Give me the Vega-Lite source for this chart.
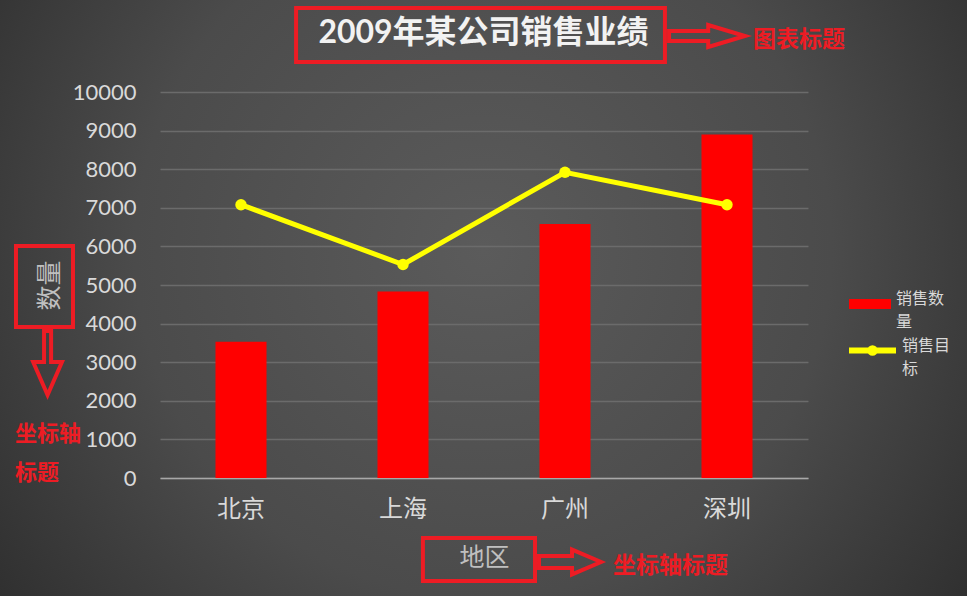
{
  "$schema": "https://vega.github.io/schema/vega-lite/v6.json",
  "width": 967,
  "height": 596,
  "autosize": "none",
  "padding": 0,
  "background": "#2c2c2c",
  "config": {"style": {"guide-label": {"lineHeight": 23}}},
  "view": {
    "stroke": null,
    "fill": {
      "gradient": "radial",
      "x1": 0.5, "y1": 0.45, "r1": 0,
      "x2": 0.5, "y2": 0.45, "r2": 0.72,
      "stops": [
        {"offset": 0, "color": "#5b5b5b"},
        {"offset": 0.5, "color": "#4b4b4b"},
        {"offset": 1, "color": "#252525"}
      ]
    }
  },
  "title": {
    "text": "2009年某公司销售业绩",
    "font": "Lato, 'Noto Sans CJK SC'",
    "fontSize": 32,
    "fontWeight": "bold",
    "color": "#f2f2f2",
    "anchor": "middle",
    "frame": "group",
    "offset": -50
  },
  "resolve": {"scale": {"x": "independent", "y": "independent"}},
  "layer": [
    {
      "data": {
        "values": [
          {"城市": "北京", "销售数量": 3530, "销售目标": 7080},
          {"城市": "上海", "销售数量": 4830, "销售目标": 5530},
          {"城市": "广州", "销售数量": 6580, "销售目标": 7920},
          {"城市": "深圳", "销售数量": 8900, "销售目标": 7080}
        ]
      },
      "layer": [
        {
          "mark": {"type": "bar"},
          "encoding": {
            "x": {"field": "城市", "type": "nominal", "sort": null,
              "scale": {"range": [160, 808], "paddingInner": 0.685, "paddingOuter": 0.3425},
              "axis": {"title": "地区", "offset": -118, "labelAngle": 0, "ticks": false, "tickSize": 0, "grid": false,
                "domain": true, "domainColor": "#a8a8a8", "domainWidth": 1.5,
                "labelFont": "Noto Sans CJK SC", "labelFontSize": 24, "labelColor": "#d9d9d9", "labelPadding": 19,
                "titleFont": "Noto Sans CJK SC", "titleFontSize": 25, "titleFontWeight": "normal", "titleColor": "#bfbfbf", "titlePadding": 24}},
            "y": {"field": "销售数量", "type": "quantitative",
              "scale": {"domain": [0, 10000], "range": [478, 92], "nice": false, "zero": true},
              "axis": {"title": "数量", "offset": -160, "format": "d", "values": [0,1000,2000,3000,4000,5000,6000,7000,8000,9000,10000],
                "ticks": false, "tickSize": 0, "domain": false, "grid": true, "gridColor": "#6b6b6b", "gridWidth": 1.5,
                "labelFont": "Lato", "labelFontSize": 22, "labelColor": "#d9d9d9", "labelPadding": 24,
                "titleFont": "Noto Sans CJK SC", "titleFontSize": 25, "titleFontWeight": "normal", "titleColor": "#bfbfbf", "titlePadding": 10}},
            "fill": {"datum": "销售数量", "type": "nominal", "scale": {"range": ["#ff0000"]},
              "legend": {"orient": "none", "legendX": 849, "legendY": 283, "title": null, "padding": 0,
                "symbolType": "M-1,-0.24H1V0.24H-1Z", "symbolSize": 1764, "symbolStrokeWidth": 0,
                "labelExpr": "['销售数','量']", "labelFont": "Noto Sans CJK SC", "labelFontSize": 16,
                "labelColor": "#d9d9d9", "labelOffset": 5, "labelBaseline": "alphabetic"}}
          }
        },
        {
          "mark": {"type": "line", "strokeWidth": 5},
          "encoding": {
            "x": {"field": "城市", "type": "nominal", "sort": null,
              "scale": {"range": [160, 808], "paddingInner": 0.685, "paddingOuter": 0.3425},
              "axis": {"title": "地区", "offset": -118, "labelAngle": 0, "ticks": false, "tickSize": 0, "grid": false,
                "domain": true, "domainColor": "#a8a8a8", "domainWidth": 1.5,
                "labelFont": "Noto Sans CJK SC", "labelFontSize": 24, "labelColor": "#d9d9d9", "labelPadding": 19,
                "titleFont": "Noto Sans CJK SC", "titleFontSize": 25, "titleFontWeight": "normal", "titleColor": "#bfbfbf", "titlePadding": 24}},
            "y": {"field": "销售目标", "type": "quantitative",
              "scale": {"domain": [0, 10000], "range": [478, 92], "nice": false, "zero": true},
              "axis": {"title": "数量", "offset": -160, "format": "d", "values": [0,1000,2000,3000,4000,5000,6000,7000,8000,9000,10000],
                "ticks": false, "tickSize": 0, "domain": false, "grid": true, "gridColor": "#6b6b6b", "gridWidth": 1.5,
                "labelFont": "Lato", "labelFontSize": 22, "labelColor": "#d9d9d9", "labelPadding": 24,
                "titleFont": "Noto Sans CJK SC", "titleFontSize": 25, "titleFontWeight": "normal", "titleColor": "#bfbfbf", "titlePadding": 10}},
            "stroke": {"datum": "销售目标", "type": "nominal", "scale": {"range": ["#ffff00"]},
              "legend": {"orient": "none", "legendX": 846, "legendY": 324, "title": null, "padding": 0,
                "symbolType": "M-1,0H1M0.1,0A0.1,0.1,0,1,1,-0.1,0A0.1,0.1,0,1,1,0.1,0", "symbolSize": 2209, "symbolStrokeWidth": 6,
                "labelExpr": "['销售目','标']", "labelFont": "Noto Sans CJK SC", "labelFontSize": 16,
                "labelColor": "#d9d9d9", "labelOffset": 3, "labelBaseline": "alphabetic"}}
          }
        },
        {
          "mark": {"type": "point", "filled": true, "size": 130, "color": "#ffff00", "opacity": 1},
          "encoding": {
            "x": {"field": "城市", "type": "nominal", "sort": null,
              "scale": {"range": [160, 808], "paddingInner": 0.685, "paddingOuter": 0.3425},
              "axis": {"title": "地区", "offset": -118, "labelAngle": 0, "ticks": false, "tickSize": 0, "grid": false,
                "domain": true, "domainColor": "#a8a8a8", "domainWidth": 1.5,
                "labelFont": "Noto Sans CJK SC", "labelFontSize": 24, "labelColor": "#d9d9d9", "labelPadding": 19,
                "titleFont": "Noto Sans CJK SC", "titleFontSize": 25, "titleFontWeight": "normal", "titleColor": "#bfbfbf", "titlePadding": 24}},
            "y": {"field": "销售目标", "type": "quantitative",
              "scale": {"domain": [0, 10000], "range": [478, 92], "nice": false, "zero": true},
              "axis": {"title": "数量", "offset": -160, "format": "d", "values": [0,1000,2000,3000,4000,5000,6000,7000,8000,9000,10000],
                "ticks": false, "tickSize": 0, "domain": false, "grid": true, "gridColor": "#6b6b6b", "gridWidth": 1.5,
                "labelFont": "Lato", "labelFontSize": 22, "labelColor": "#d9d9d9", "labelPadding": 24,
                "titleFont": "Noto Sans CJK SC", "titleFontSize": 25, "titleFontWeight": "normal", "titleColor": "#bfbfbf", "titlePadding": 10}}
          }
        }
      ]
    },
    {
      "data": {"values": [{}]},
      "mark": {"type": "rect", "filled": false, "stroke": "#ed1c24", "strokeWidth": 4},
      "encoding": {
        "x": {"datum": 0.84, "type": "quantitative", "scale": {"domain": [0, 4], "range": [160, 808]}, "axis": null},
        "x2": {"datum": 3.117},
        "y": {"datum": 12176, "type": "quantitative", "scale": {"domain": [0, 10000], "range": [478, 92]}, "axis": null},
        "y2": {"datum": 10777}
      }
    },
    {
      "data": {"values": [{}]},
      "mark": {"type": "rect", "filled": false, "stroke": "#ed1c24", "strokeWidth": 4},
      "encoding": {
        "x": {"datum": -0.889, "type": "quantitative", "scale": {"domain": [0, 4], "range": [160, 808]}, "axis": null},
        "x2": {"datum": -0.537},
        "y": {"datum": 6010, "type": "quantitative", "scale": {"domain": [0, 10000], "range": [478, 92]}, "axis": null},
        "y2": {"datum": 3912}
      }
    },
    {
      "data": {"values": [{}]},
      "mark": {"type": "rect", "filled": false, "stroke": "#ed1c24", "strokeWidth": 4},
      "encoding": {
        "x": {"datum": 1.623, "type": "quantitative", "scale": {"domain": [0, 4], "range": [160, 808]}, "axis": null},
        "x2": {"datum": 2.315},
        "y": {"datum": -1554, "type": "quantitative", "scale": {"domain": [0, 10000], "range": [478, 92]}, "axis": null},
        "y2": {"datum": -2668}
      }
    },
    {
      "data": {"values": [{}]},
      "mark": {"type": "point", "shape": "M-1,-0.13L0.03,-0.13L0.03,-0.29L1,0L0.03,0.29L0.03,0.13L-1,0.13Z", "size": 5776, "filled": false, "stroke": "#ed1c24", "strokeWidth": 4, "opacity": 1},
      "encoding": {
        "x": {"datum": 3.377, "type": "quantitative", "scale": {"domain": [0, 4], "range": [160, 808]}, "axis": null},
        "y": {"datum": 11451, "type": "quantitative", "scale": {"domain": [0, 10000], "range": [478, 92]}, "axis": null}
      }
    },
    {
      "data": {"values": [{}]},
      "mark": {"type": "point", "shape": "M-0.11,-1L0.11,-1L0.11,-0.03L0.45,-0.03L0,1L-0.45,-0.03L-0.11,-0.03Z", "size": 4096, "filled": false, "stroke": "#ed1c24", "strokeWidth": 4, "opacity": 1},
      "encoding": {
        "x": {"datum": -0.694, "type": "quantitative", "scale": {"domain": [0, 4], "range": [160, 808]}, "axis": null},
        "y": {"datum": 2979, "type": "quantitative", "scale": {"domain": [0, 10000], "range": [478, 92]}, "axis": null}
      }
    },
    {
      "data": {"values": [{}]},
      "mark": {"type": "point", "shape": "M-1,-0.19L0.065,-0.19L0.065,-0.4L1,0L0.065,0.4L0.065,0.19L-1,0.19Z", "size": 3844, "filled": false, "stroke": "#ed1c24", "strokeWidth": 4, "opacity": 1},
      "encoding": {
        "x": {"datum": 2.531, "type": "quantitative", "scale": {"domain": [0, 4], "range": [160, 808]}, "axis": null},
        "y": {"datum": -2176, "type": "quantitative", "scale": {"domain": [0, 10000], "range": [478, 92]}, "axis": null}
      }
    },
    {
      "data": {"values": [{}]},
      "mark": {"type": "text", "text": "图表标题", "font": "Noto Sans CJK SC", "fontSize": 23, "fontWeight": "bold", "color": "#ed1c24", "align": "left", "baseline": "middle"},
      "encoding": {
        "x": {"datum": 3.66, "type": "quantitative", "scale": {"domain": [0, 4], "range": [160, 808]}, "axis": null},
        "y": {"datum": 11347, "type": "quantitative", "scale": {"domain": [0, 10000], "range": [478, 92]}, "axis": null}
      }
    },
    {
      "data": {"values": [{}]},
      "mark": {"type": "text", "text": "坐标轴", "font": "Noto Sans CJK SC", "fontSize": 22, "fontWeight": "bold", "color": "#ed1c24", "align": "left", "baseline": "middle"},
      "encoding": {
        "x": {"datum": -0.895, "type": "quantitative", "scale": {"domain": [0, 4], "range": [160, 808]}, "axis": null},
        "y": {"datum": 1140, "type": "quantitative", "scale": {"domain": [0, 10000], "range": [478, 92]}, "axis": null}
      }
    },
    {
      "data": {"values": [{}]},
      "mark": {"type": "text", "text": "标题", "font": "Noto Sans CJK SC", "fontSize": 22, "fontWeight": "bold", "color": "#ed1c24", "align": "left", "baseline": "middle"},
      "encoding": {
        "x": {"datum": -0.895, "type": "quantitative", "scale": {"domain": [0, 4], "range": [160, 808]}, "axis": null},
        "y": {"datum": 130, "type": "quantitative", "scale": {"domain": [0, 10000], "range": [478, 92]}, "axis": null}
      }
    },
    {
      "data": {"values": [{}]},
      "mark": {"type": "text", "text": "坐标轴标题", "font": "Noto Sans CJK SC", "fontSize": 23, "fontWeight": "bold", "color": "#ed1c24", "align": "left", "baseline": "middle"},
      "encoding": {
        "x": {"datum": 2.796, "type": "quantitative", "scale": {"domain": [0, 4], "range": [160, 808]}, "axis": null},
        "y": {"datum": -2280, "type": "quantitative", "scale": {"domain": [0, 10000], "range": [478, 92]}, "axis": null}
      }
    }
  ]
}
